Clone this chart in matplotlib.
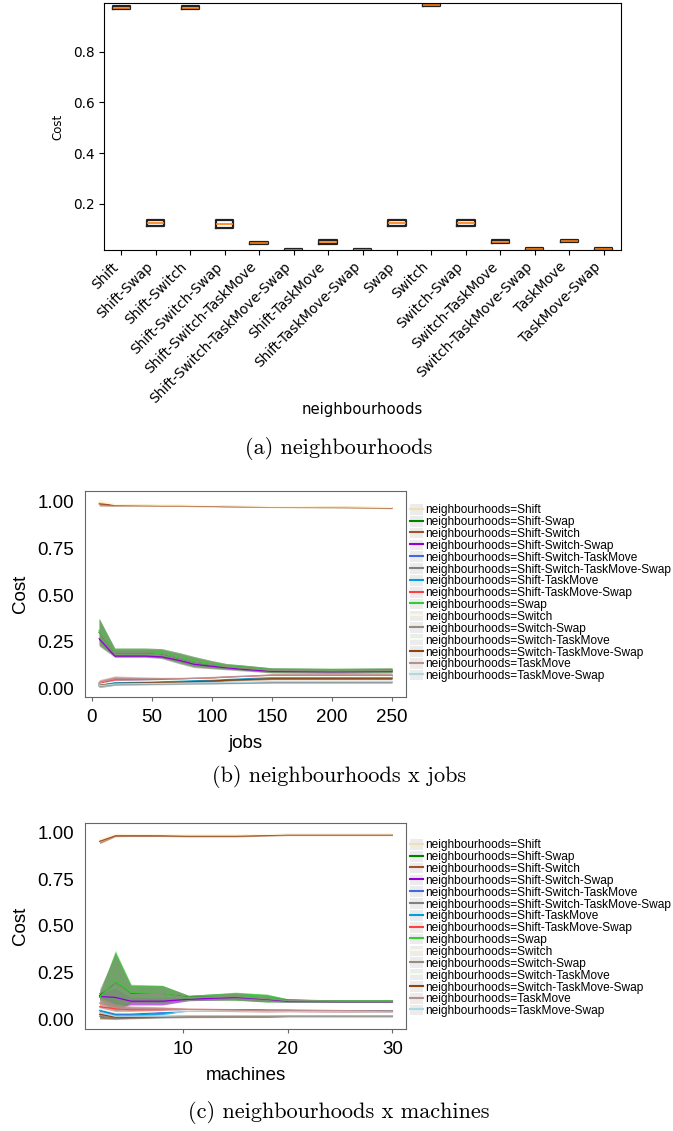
import numpy as np
import matplotlib
matplotlib.use("Agg")
import matplotlib.pyplot as plt
from matplotlib.lines import Line2D
from matplotlib.patches import Rectangle

W, H = 673, 1131

NEIGHBOURHOODS = [
    "Shift", "Shift-Swap", "Shift-Switch", "Shift-Switch-Swap",
    "Shift-Switch-TaskMove", "Shift-Switch-TaskMove-Swap", "Shift-TaskMove",
    "Shift-TaskMove-Swap", "Swap", "Switch", "Switch-Swap", "Switch-TaskMove",
    "Switch-TaskMove-Swap", "TaskMove", "TaskMove-Swap",
]
COLOURS = [
    "#f5deb3", "#008000", "#a0522d", "#9400d3", "#4169e1", "#808080",
    "#00a0e0", "#ff4040", "#32cd32", "#fff8dc", "#8f8f80", "#f0fff0",
    "#8b4513", "#bc8f8f", "#add8e6",
]

# (a) box statistics per neighbourhood
box_q1 = [0.970, 0.110, 0.970, 0.105, 0.040, 0.013, 0.042, 0.013,
          0.110, 0.980, 0.110, 0.045, 0.016, 0.047, 0.016]
box_med = [0.975, 0.123, 0.975, 0.120, 0.045, 0.016, 0.048, 0.016,
           0.123, 0.985, 0.123, 0.050, 0.020, 0.052, 0.020]
box_q3 = [0.980, 0.135, 0.980, 0.135, 0.050, 0.019, 0.055, 0.019,
          0.135, 0.990, 0.135, 0.055, 0.024, 0.058, 0.024]

# (b) cost by number of jobs
jobs = [6, 19, 44, 58, 73, 85, 100, 112, 125, 150, 200, 250]
jobs_mean = [
    [1.000, 0.985, 0.983, 0.982, 0.982, 0.981, 0.980, 0.978, 0.977, 0.975, 0.973, 0.970],
    [0.300, 0.190, 0.190, 0.185, 0.160, 0.140, 0.125, 0.115, 0.110, 0.095, 0.093, 0.095],
    [0.990, 0.982, 0.981, 0.980, 0.980, 0.979, 0.978, 0.976, 0.975, 0.974, 0.972, 0.968],
    [0.265, 0.172, 0.172, 0.168, 0.148, 0.128, 0.117, 0.109, 0.101, 0.090, 0.088, 0.090],
    [0.020, 0.035, 0.040, 0.042, 0.045, 0.048, 0.050, 0.053, 0.056, 0.060, 0.060, 0.060],
    [0.010, 0.020, 0.022, 0.023, 0.024, 0.025, 0.026, 0.027, 0.028, 0.030, 0.030, 0.030],
    [0.020, 0.030, 0.030, 0.035, 0.038, 0.040, 0.042, 0.046, 0.050, 0.058, 0.058, 0.058],
    [0.025, 0.045, 0.045, 0.045, 0.047, 0.050, 0.052, 0.055, 0.060, 0.068, 0.068, 0.068],
    [0.310, 0.195, 0.195, 0.190, 0.165, 0.145, 0.130, 0.118, 0.112, 0.097, 0.095, 0.096],
    [1.005, 0.986, 0.984, 0.983, 0.983, 0.982, 0.981, 0.979, 0.978, 0.976, 0.974, 0.971],
    [0.300, 0.190, 0.190, 0.185, 0.160, 0.140, 0.125, 0.115, 0.108, 0.095, 0.092, 0.094],
    [0.020, 0.035, 0.038, 0.040, 0.043, 0.046, 0.048, 0.052, 0.056, 0.062, 0.062, 0.062],
    [0.015, 0.025, 0.028, 0.030, 0.032, 0.035, 0.038, 0.042, 0.045, 0.050, 0.050, 0.050],
    [0.030, 0.050, 0.050, 0.050, 0.050, 0.052, 0.055, 0.060, 0.063, 0.070, 0.070, 0.070],
    [0.012, 0.022, 0.024, 0.025, 0.026, 0.027, 0.028, 0.030, 0.031, 0.034, 0.034, 0.034],
]
jobs_err = [
    [0.012, 0.005, 0.004, 0.004, 0.004, 0.004, 0.004, 0.004, 0.004, 0.004, 0.004, 0.004],
    [0.070, 0.020, 0.020, 0.022, 0.025, 0.025, 0.018, 0.014, 0.013, 0.012, 0.012, 0.012],
    [0.012, 0.005, 0.004, 0.004, 0.004, 0.004, 0.004, 0.004, 0.004, 0.004, 0.004, 0.004],
    [0.012, 0.005, 0.005, 0.005, 0.005, 0.005, 0.004, 0.004, 0.004, 0.004, 0.004, 0.004],
    [0.010, 0.008, 0.007, 0.006, 0.006, 0.006, 0.006, 0.006, 0.005, 0.005, 0.005, 0.005],
    [0.008, 0.006, 0.005, 0.005, 0.005, 0.005, 0.005, 0.004, 0.004, 0.004, 0.004, 0.004],
    [0.010, 0.008, 0.007, 0.006, 0.006, 0.006, 0.006, 0.006, 0.005, 0.005, 0.005, 0.005],
    [0.015, 0.015, 0.010, 0.008, 0.008, 0.008, 0.008, 0.007, 0.006, 0.006, 0.006, 0.006],
    [0.065, 0.020, 0.020, 0.022, 0.025, 0.025, 0.018, 0.014, 0.013, 0.012, 0.012, 0.012],
    [0.012, 0.005, 0.004, 0.004, 0.004, 0.004, 0.004, 0.004, 0.004, 0.004, 0.004, 0.004],
    [0.075, 0.025, 0.025, 0.027, 0.030, 0.030, 0.022, 0.017, 0.016, 0.014, 0.014, 0.014],
    [0.010, 0.008, 0.007, 0.006, 0.006, 0.006, 0.006, 0.006, 0.005, 0.005, 0.005, 0.005],
    [0.008, 0.007, 0.006, 0.006, 0.006, 0.005, 0.005, 0.005, 0.005, 0.005, 0.005, 0.005],
    [0.015, 0.015, 0.010, 0.008, 0.008, 0.008, 0.008, 0.007, 0.006, 0.006, 0.006, 0.006],
    [0.008, 0.006, 0.005, 0.005, 0.005, 0.005, 0.005, 0.004, 0.004, 0.004, 0.004, 0.004],
]

# (c) cost by number of machines
machines = [2, 3.5, 5, 8, 10.5, 15, 18, 20, 25, 30]
machines_mean = [
    [0.955, 0.985, 0.985, 0.985, 0.982, 0.982, 0.985, 0.988, 0.988, 0.988],
    [0.130, 0.200, 0.140, 0.138, 0.120, 0.125, 0.115, 0.105, 0.100, 0.100],
    [0.950, 0.980, 0.980, 0.980, 0.978, 0.978, 0.982, 0.985, 0.985, 0.985],
    [0.125, 0.120, 0.100, 0.100, 0.110, 0.120, 0.110, 0.100, 0.098, 0.098],
    [0.050, 0.030, 0.030, 0.040, 0.052, 0.052, 0.050, 0.050, 0.048, 0.045],
    [0.020, 0.010, 0.012, 0.015, 0.017, 0.018, 0.018, 0.020, 0.020, 0.020],
    [0.050, 0.025, 0.025, 0.035, 0.055, 0.055, 0.052, 0.052, 0.050, 0.047],
    [0.070, 0.060, 0.055, 0.055, 0.055, 0.053, 0.050, 0.050, 0.048, 0.046],
    [0.120, 0.210, 0.145, 0.140, 0.118, 0.128, 0.118, 0.103, 0.102, 0.102],
    [0.960, 0.988, 0.988, 0.987, 0.985, 0.985, 0.987, 0.990, 0.990, 0.990],
    [0.140, 0.200, 0.135, 0.135, 0.118, 0.125, 0.113, 0.104, 0.100, 0.100],
    [0.060, 0.040, 0.040, 0.045, 0.050, 0.050, 0.048, 0.048, 0.046, 0.044],
    [0.030, 0.015, 0.015, 0.018, 0.020, 0.020, 0.020, 0.022, 0.022, 0.022],
    [0.090, 0.065, 0.060, 0.058, 0.055, 0.052, 0.050, 0.050, 0.048, 0.047],
    [0.040, 0.020, 0.020, 0.020, 0.022, 0.022, 0.022, 0.022, 0.022, 0.022],
]
machines_err = [
    [0.012, 0.005, 0.004, 0.004, 0.004, 0.004, 0.004, 0.004, 0.004, 0.004],
    [0.020, 0.160, 0.045, 0.045, 0.012, 0.020, 0.020, 0.008, 0.006, 0.006],
    [0.012, 0.005, 0.004, 0.004, 0.004, 0.004, 0.004, 0.004, 0.004, 0.004],
    [0.015, 0.050, 0.020, 0.020, 0.008, 0.010, 0.010, 0.006, 0.005, 0.005],
    [0.025, 0.010, 0.010, 0.008, 0.006, 0.006, 0.006, 0.005, 0.005, 0.005],
    [0.015, 0.008, 0.006, 0.005, 0.005, 0.005, 0.005, 0.004, 0.004, 0.004],
    [0.025, 0.010, 0.010, 0.008, 0.006, 0.006, 0.006, 0.005, 0.005, 0.005],
    [0.030, 0.020, 0.015, 0.012, 0.008, 0.008, 0.007, 0.006, 0.006, 0.006],
    [0.020, 0.160, 0.045, 0.045, 0.012, 0.020, 0.020, 0.008, 0.006, 0.006],
    [0.012, 0.005, 0.004, 0.004, 0.004, 0.004, 0.004, 0.004, 0.004, 0.004],
    [0.025, 0.150, 0.045, 0.045, 0.012, 0.018, 0.015, 0.006, 0.005, 0.005],
    [0.030, 0.015, 0.012, 0.008, 0.006, 0.006, 0.006, 0.005, 0.005, 0.005],
    [0.020, 0.008, 0.006, 0.005, 0.005, 0.005, 0.005, 0.004, 0.004, 0.004],
    [0.030, 0.020, 0.015, 0.012, 0.008, 0.008, 0.007, 0.006, 0.006, 0.006],
    [0.020, 0.008, 0.006, 0.005, 0.005, 0.005, 0.005, 0.004, 0.004, 0.004],
]


def px_axes(fig, left, top, right, bottom):
    return fig.add_axes([left / W, 1 - bottom / H, (right - left) / W, (bottom - top) / H])


def line_panel(fig, top, bottom, x, means, errs, xlabel, xlim, ylim, xticks, legend_top):
    ax = px_axes(fig, 85, top, 406, bottom)
    for name, col, m, e in zip(NEIGHBOURHOODS, COLOURS, means, errs):
        m = np.asarray(m)
        e = np.asarray(e)
        ax.fill_between(x, m - e, m + e, color=col, alpha=0.6, lw=0)
        ax.plot(x, m, color=col, lw=0.9)
    ax.set_xlim(*xlim)
    ax.set_ylim(*ylim)
    ax.set_xticks(xticks)
    ax.set_yticks([0, 0.25, 0.5, 0.75, 1.0])
    ax.set_yticklabels(["0.00", "0.25", "0.50", "0.75", "1.00"])
    ax.tick_params(axis="y", length=0, pad=8, labelsize=13.5)
    ax.tick_params(axis="x", length=3, color="#666666", pad=6, labelsize=13.5)
    for s in ax.spines.values():
        s.set_color("#666666")
        s.set_linewidth(0.8)
    ax.set_xlabel(xlabel, fontsize=13.5, labelpad=6)
    ax.set_ylabel("Cost", fontsize=13.5, labelpad=6)

    handles = [(Rectangle((0, 0), 1, 1, facecolor="#ececec", edgecolor="none"),
                Line2D([], [], color=c, lw=1.5)) for c in COLOURS]
    labels = ["neighbourhoods=" + n for n in NEIGHBOURHOODS]
    fig.legend(handles, labels, loc="upper left",
               bbox_to_anchor=(410 / W, 1 - legend_top / H), frameon=False,
               fontsize=8.6, handlelength=1.1, handleheight=1.0,
               handletextpad=0.2, labelspacing=-0.05, borderpad=0, borderaxespad=0)
    return ax


plt.rcParams["font.family"] = ["Liberation Sans", "DejaVu Sans"]
fig = plt.figure(figsize=(W / 100, H / 100), dpi=100)

# ── (a) boxplot per neighbourhood ──
ax = px_axes(fig, 104, 3, 621, 250)
stats = [dict(med=m, q1=a, q3=b, whislo=a, whishi=b, fliers=[], label=n)
         for n, a, m, b in zip(NEIGHBOURHOODS, box_q1, box_med, box_q3)]
ax.bxp(stats, showfliers=False, showcaps=False, widths=0.5,
       boxprops=dict(color="#222222", lw=1.6),
       medianprops=dict(color="#ff7f0e", lw=1.2),
       whiskerprops=dict(color="#222222", lw=1))
ax.set_xlim(0.5, 15.5)
ax.set_ylim(0.017, 0.993)
ax.set_yticks([0.2, 0.4, 0.6, 0.8])
for t in ax.get_xticklabels() + ax.get_yticklabels():
    t.set_fontfamily("DejaVu Sans")
ax.tick_params(labelsize=9.8, length=3.5)
plt.setp(ax.get_xticklabels(), rotation=45, ha="right")
ax.set_ylabel("Cost", fontsize=8.5, fontfamily="DejaVu Sans", labelpad=6)
ax.set_xlabel("neighbourhoods", fontsize=10.7, fontfamily="DejaVu Sans", labelpad=-3)

# ── (b) neighbourhoods x jobs ──
line_panel(fig, 491, 697, jobs, jobs_mean, jobs_err, "jobs",
           (-5.8, 261.7), (-0.048, 1.059), [0, 50, 100, 150, 200, 250], 504)

# ── (c) neighbourhoods x machines ──
line_panel(fig, 823, 1029, machines, machines_mean, machines_err, "machines",
           (0.6, 31.3), (-0.048, 1.048), [10, 20, 30], 839)

caption = dict(fontfamily="cmr10", fontsize=16, ha="center", va="center")
fig.text(339 / W, 1 - 448 / H, "(a) neighbourhoods", **caption)
fig.text(339 / W, 1 - 776 / H, "(b) neighbourhoods x jobs", **caption)
fig.text(339 / W, 1 - 1112 / H, "(c) neighbourhoods x machines", **caption)

fig.savefig("out.png", dpi=100)
